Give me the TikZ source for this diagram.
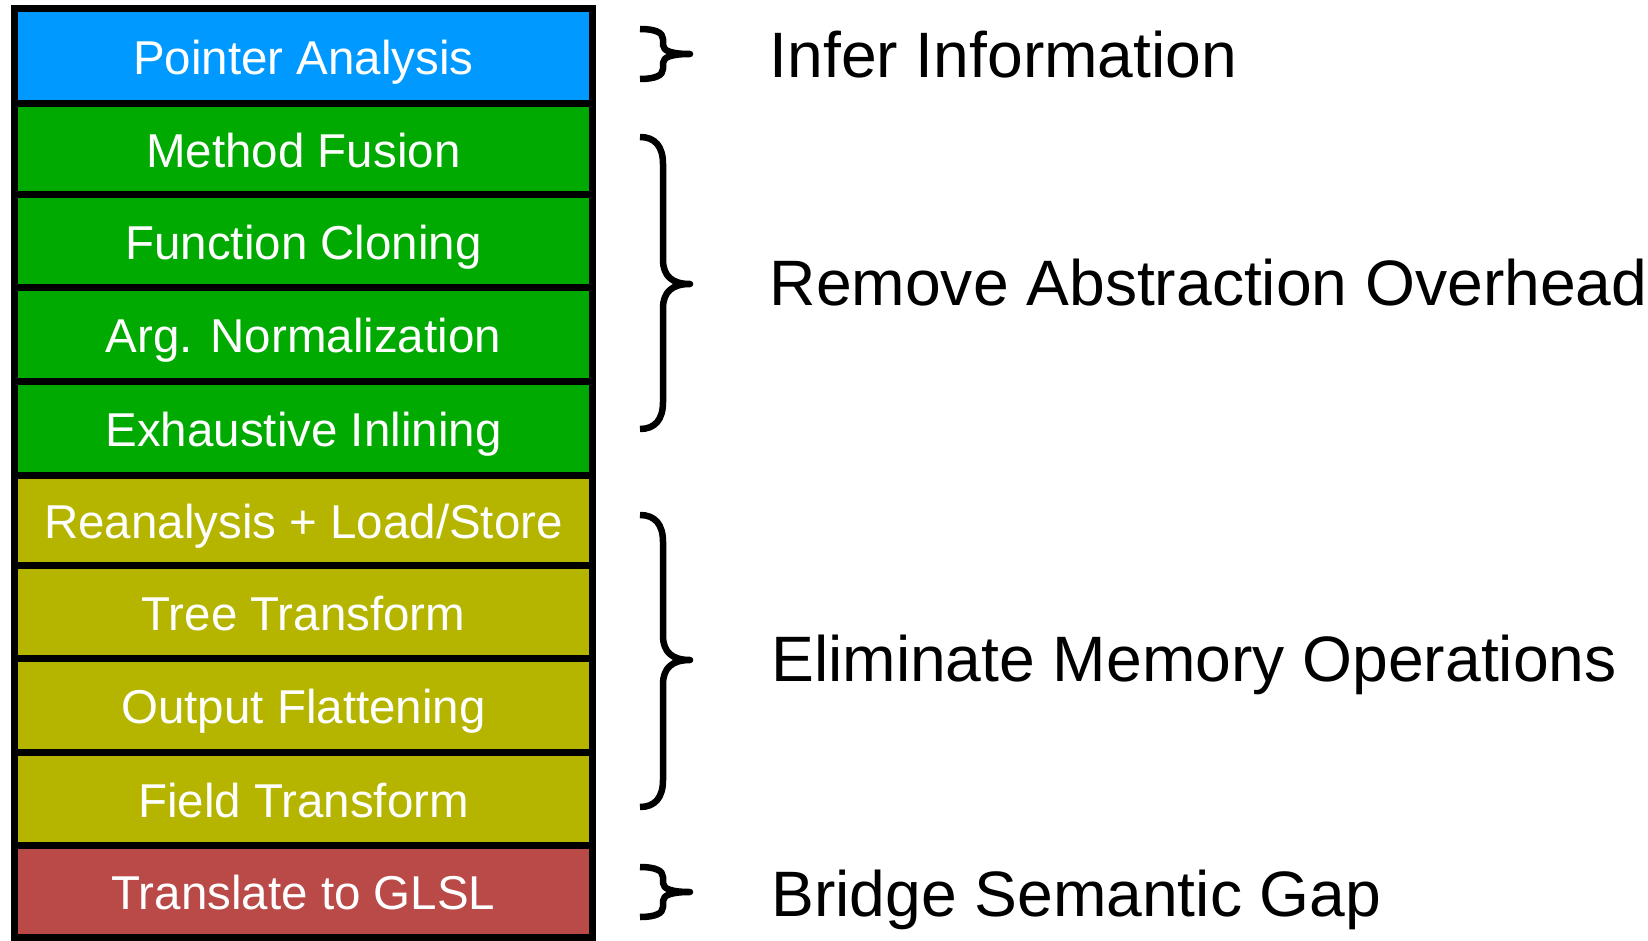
\documentclass[tikz,border=0pt]{standalone}
\usepackage{fontspec}
\setmainfont{Liberation Sans}
\definecolor{stageblue}{RGB}{0,153,255}
\definecolor{stagegreen}{RGB}{0,170,0}
\definecolor{stageolive}{RGB}{181,181,0}
\definecolor{stagered}{RGB}{185,74,72}

% curly brace: #1 top y, #2 tip y, #3 bottom y, #4 end round-off length
\newcommand{\passbrace}[4]{%
  \draw[bracestroke]
    (640,#1) .. controls (655,#1) and (663,#1+#4*0.35) .. (663,#1+#4)
    -- (663,#2-#4*0.9) .. controls (663,#2-#4*0.3) and (672,#2) .. (690,#2)
    .. controls (672,#2) and (663,#2+#4*0.3) .. (663,#2+#4*0.9)
    -- (663,#3-#4) .. controls (663,#3-#4*0.35) and (655,#3) .. (640,#3);}

\begin{document}
\begin{tikzpicture}[x=1pt,y=-1pt,
  stage/.style={draw=black, line width=7pt, minimum width=578pt,
    inner sep=0pt, text=white, font=\fontsize{47.5}{57}\selectfont,
    text height=37pt, text depth=0pt},
  note/.style={anchor=west, inner sep=0pt, text=black,
    font=\fontsize{64.2}{77}\selectfont, text height=46pt, text depth=0pt},
  bracestroke/.style={draw=black, line width=6.5pt, line join=round}]
\useasboundingbox (0,0) rectangle (1648,941);

% stack of compiler passes
\node[stage, fill=stageblue,  minimum height=95.5pt] (pa) at (303.5,56.25) {Pointer Analysis};
\node[stage, fill=stagegreen, minimum height=91pt]   (mf) at (303.5,149.5) {Method Fusion};
\node[stage, fill=stagegreen, minimum height=92pt]   (fc) at (303.5,241)   {Function Cloning};
\node[stage, fill=stagegreen, minimum height=94pt]   (an) at (303.5,334)   {Arg. Normalization};
\node[stage, fill=stagegreen, minimum height=94pt]   (ei) at (303.5,428)   {Exhaustive Inlining};
\node[stage, fill=stageolive, minimum height=90pt]   (rl) at (303.5,520)   {Reanalysis + Load/Store};
\node[stage, fill=stageolive, minimum height=93pt]   (tt) at (303.5,611.5) {Tree Transform};
\node[stage, fill=stageolive, minimum height=94pt]   (of) at (303.5,705)   {Output Flattening};
\node[stage, fill=stageolive, minimum height=93pt]   (ft) at (303.5,798.5) {Field Transform};
\node[stage, fill=stagered,   minimum height=92pt]   (tg) at (303.5,891)   {Translate to GLSL};

% braces grouping the passes
\passbrace{29}{54}{79}{10}
\passbrace{137}{284}{429}{27}
\passbrace{515}{660}{807}{27}
\passbrace{867}{892}{917}{10}

% goals of each group
\node[note] (g1) at (769.5,55)  {Infer Information};
\node[note] (g2) at (769.5,282) {Remove Abstraction Overhead};
\node[note] (g3) at (771,658)   {Eliminate Memory Operations};
\node[note] (g4) at (771,893)   {Bridge Semantic Gap};
\end{tikzpicture}
\end{document}
